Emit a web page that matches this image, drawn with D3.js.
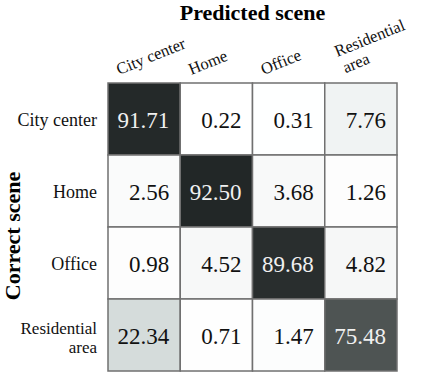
<!DOCTYPE html>
<html>
<head>
<meta charset="utf-8">
<script src="https://cdn.jsdelivr.net/npm/d3@7"></script>
<style>
  body { margin: 0; background: #fff; }
</style>
</head>
<body>
<div id="viz"></div>
<script>
// categories (rows = correct, columns = predicted)
var scenes = ["City center", "Home", "Office", "Residential area"];
var sceneLines = [["City center"], ["Home"], ["Office"], ["Residential", "area"]];

// confusion matrix values, one array per correct scene
var cityCenter  = [91.71, 0.22, 0.31, 7.76];
var home        = [2.56, 92.50, 3.68, 1.26];
var office      = [0.98, 4.52, 89.68, 4.82];
var residential = [22.34, 0.71, 1.47, 75.48];
var matrix = [cityCenter, home, office, residential];

var width = 424, height = 372;
var margin = {top: 83, left: 108, right: 27, bottom: 1};
var serif = '"Liberation Serif", "Times New Roman", Times, "DejaVu Serif", serif';

var svg = d3.select("#viz")
  .append("svg")
    .attr("width", width)
    .attr("height", height)
    .attr("font-family", serif)
    .style("font-family", serif);

var x = d3.scaleBand()
    .domain(scenes)
    .range([margin.left, width - margin.right]);
var y = d3.scaleBand()
    .domain(scenes)
    .range([margin.top, height - margin.bottom]);

var color = d3.scaleLinear()
    .domain([0, 25, 92.5])
    .range(["#ffffff", "#d0d8d7", "#222727"])
    .clamp(true);

// flatten to cells
var cells = [];
matrix.forEach(function(row, i) {
  row.forEach(function(v, j) {
    cells.push({row: scenes[i], col: scenes[j], value: v});
  });
});

var g = svg.append("g");

g.selectAll("rect")
  .data(cells)
  .enter()
  .append("rect")
    .attr("x", function(d) { return x(d.col); })
    .attr("y", function(d) { return y(d.row); })
    .attr("width", x.bandwidth())
    .attr("height", y.bandwidth())
    .attr("fill", function(d) { return color(d.value); })
    .attr("stroke", "#707070")
    .attr("stroke-width", 1.5);

g.selectAll(".val")
  .data(cells)
  .enter()
  .append("text")
    .attr("class", "val")
    .attr("x", function(d) { return x(d.col) + x.bandwidth() - 11; })
    .attr("y", function(d) { return y(d.row) + y.bandwidth() / 2 + 8.5; })
    .attr("text-anchor", "end")
    .style("font-size", "23px")
    .attr("fill", function(d) { return d.value > 50 ? "#f0f0f0" : "#111"; })
    .text(function(d) { return d.value.toFixed(2); });

// row labels (two-line label uses a slightly smaller size)
var rowLab = svg.append("g").selectAll("text")
  .data(scenes)
  .enter()
  .append("text")
    .attr("text-anchor", "end")
    .style("font-size", function(d, i) { return sceneLines[i].length > 1 ? "17px" : "18px"; })
    .attr("fill", "#111")
    .attr("transform", function(d, i) {
      var n = sceneLines[i].length;
      return "translate(97," + (y(d) + y.bandwidth() / 2 + 7 - (n - 1) * 8) + ")";
    });
rowLab.selectAll("tspan")
  .data(function(d, i) { return sceneLines[i]; })
  .enter()
  .append("tspan")
    .attr("x", 0)
    .attr("dy", function(d, k) { return k === 0 ? 0 : 19; })
    .text(function(d) { return d; });

// column labels, rotated
var colLab = svg.append("g").selectAll("text")
  .data(scenes)
  .enter()
  .append("text")
    .style("font-size", "16.5px")
    .attr("fill", "#111")
    .attr("transform", function(d, i) {
      var n = sceneLines[i].length;
      return "translate(" + (x(d) + 11 + (n - 1) * 1.5) + "," + (75 - (n - 1) * 18) + ") rotate(-22)";
    });
colLab.selectAll("tspan")
  .data(function(d, i) { return sceneLines[i]; })
  .enter()
  .append("tspan")
    .attr("x", function(d, k) { return k === 0 ? 0 : 1.5; })
    .attr("dy", function(d, k) { return k === 0 ? 0 : 18; })
    .text(function(d) { return d; });

// axis titles
svg.append("text")
    .attr("x", (margin.left + width - margin.right) / 2)
    .attr("y", 19.5)
    .attr("text-anchor", "middle")
    .style("font-size", "22px")
    .style("font-weight", "bold")
    .text("Predicted scene");

svg.append("text")
    .attr("transform", "translate(20," + 236 + ") rotate(-90)")
    .attr("text-anchor", "middle")
    .style("font-size", "22px")
    .style("font-weight", "bold")
    .text("Correct scene");
</script>
</body>
</html>
